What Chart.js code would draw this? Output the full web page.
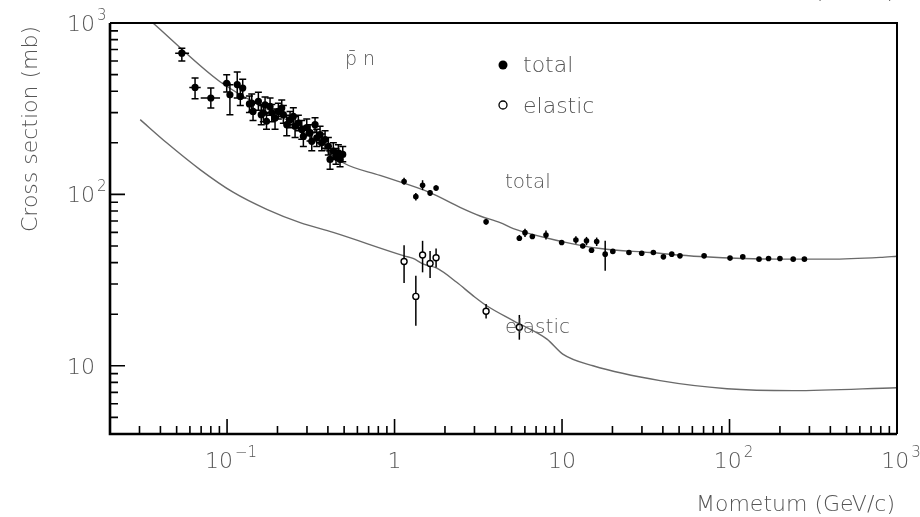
<!DOCTYPE html>
<html>
<head>
<meta charset="utf-8">
<script src="https://cdn.jsdelivr.net/npm/chart.js@4.4.1/dist/chart.umd.min.js"></script>
<style>
  html, body { margin: 0; padding: 0; background: #fff; }
  canvas { display: block; }
</style>
</head>
<body>
<canvas id="c" width="920" height="517"></canvas>
<script>
// pbar-n total cross section, measured points (GeV/c, mb)
const totP  = [0.0537, 0.0644, 0.080, 0.0995, 0.104, 0.115, 0.120, 0.124, 0.136, 0.1404, 0.1429, 0.1538, 0.160, 0.1647,
               0.1686, 0.172, 0.1806, 0.1849, 0.1934, 0.2024, 0.2121, 0.2168, 0.2272, 0.2377, 0.2487, 0.2547, 0.2665,
               0.2793, 0.2855, 0.2991, 0.3130, 0.3204, 0.3352, 0.3431, 0.3591, 0.3675, 0.3847, 0.4025, 0.4120, 0.4311,
               0.4473, 0.4619, 0.4727, 0.4906,
               1.14, 1.34, 1.47, 1.63, 1.77, 3.52, 5.56, 6.01, 6.65, 8.02, 9.95, 12.1, 13.3, 14.0, 15.0, 16.1, 18.1,
               20.1, 25.1, 29.9, 35.1, 40.3, 45.2, 50.6, 70.5, 100.7, 120, 150, 171, 200, 240, 280];
const totS  = [667, 421, 365, 445, 381, 437, 373, 417, 337, 341, 305, 349, 292, 299,
               333, 267, 326, 299, 279, 305, 319, 292, 255, 273, 285, 250, 261,
               239, 218, 245, 229, 204, 255, 214, 223, 200, 209, 191, 160, 179,
               167, 175, 160, 171,
               119, 97, 113, 102, 109, 69.3, 55.5, 59.8, 56.8, 58.0, 52.4, 54.2, 50.0, 53.6, 47.2, 53.1, 44.8,
               46.5, 45.8, 45.4, 45.8, 43.2, 44.8, 43.8, 43.8, 42.5, 43.2, 41.9, 42.3, 42.3, 41.9, 41.9];
const totLo = [601, 362, 319, 396, 292, 365, 330, 365, 300, 305, 270, 310, 255, 265,
               295, 240, 290, 265, 240, 275, 285, 260, 220, 245, 255, 215, 235,
               210, 190, 220, 205, 180, 230, 190, 200, 180, 185, 170, 140, 160,
               150, 158, 145, 155,
               114, 92, 106, 98, 105, 66.5, 53.5, 56.5, 55.0, 54.5, 51.5, 51.5, 48.5, 50.5, 46.0, 50.0, 35.8,
               45.5, 45.0, 44.6, 44.6, 42.5, 44.0, 43.0, 43.0, 41.8, 42.5, 41.2, 41.6, 41.6, 41.2, 41.2];
const totHi = [713, 477, 417, 499, 436, 517, 420, 470, 375, 385, 340, 395, 330, 335,
               370, 300, 365, 335, 315, 340, 355, 330, 290, 305, 320, 285, 290,
               270, 250, 275, 255, 230, 280, 240, 250, 225, 235, 215, 180, 200,
               185, 195, 178, 190,
               125, 102, 121, 106, 113, 72.0, 58.0, 63.0, 58.5, 61.5, 53.3, 57.0, 51.5, 56.5, 48.5, 56.0, 53.6,
               47.5, 46.6, 46.2, 47.0, 44.0, 45.6, 44.6, 44.6, 43.2, 43.9, 42.6, 43.0, 43.0, 42.6, 42.6];
// horizontal (momentum) error bars of the lowest points
const totPLo = [0.049, 0.0595, 0.0696, 0.094];
const totPHi = [0.0593, 0.0696, 0.0908, 0.105];

// elastic cross section, measured points
const elP  = [1.14, 1.34, 1.47, 1.63, 1.77, 3.52, 5.56];
const elS  = [40.6, 25.4, 44.3, 39.5, 42.7, 20.8, 16.8];
const elLo = [30.4, 17.1, 35.1, 32.5, 37.5, 18.9, 14.2];
const elHi = [50.5, 33.5, 53.6, 46.8, 48.3, 22.9, 19.8];

// fitted curves
const fitTotP = [0.0361, 0.0908, 0.26, 0.493, 0.819, 1.63, 2.46, 3.24, 4.27, 5.12, 9.72, 16.9, 33.5, 66.7, 200, 398, 793, 1000];
const fitTotS = [1000, 454, 250, 153, 129, 102.4, 84, 74.8, 68.4, 63.1, 53.4, 48.3, 45.8, 43.4, 41.9, 41.9, 42.9, 43.6];
const fitElP  = [0.0303, 0.0436, 0.069, 0.1086, 0.1726, 0.273, 0.43, 1.14, 1.29, 1.49, 1.79, 2.35, 2.95,
                 3.55, 5.13, 8.13, 10.1, 15.3, 38.5, 96.6, 239, 1000];
const fitElS  = [273, 200, 139.6, 103, 81.8, 68.4, 60, 43.8, 42.3, 39.2, 37.1, 30.7, 25.6,
                 22.4, 18.3, 14.3, 11.7, 10, 8.19, 7.35, 7.16, 7.45];

// axis ticks
const xMajor  = [0.1, 1, 10, 100, 1000];
const xLabels = [['10', '\u22121'], ['1', ''], ['10', ''], ['10', '2'], ['10', '3']];
const yMajor  = [10, 100, 1000];
const yLabels = [['10', ''], ['10', '2'], ['10', '3']];

const FAM = '"DejaVu Sans"';
const FONT = '200 22px ' + FAM;
const SUP = '200 15px ' + FAM;
const TXT = '#555';

const pts = (xs, ys) => xs.map((x, i) => ({ x, y: ys[i] }));

const errorBars = {
    id: 'errorBars',
    beforeDatasetDraw(chart, args) {
        const sets = { 0: [totP, totS, totLo, totHi], 1: [elP, elS, elLo, elHi] };
        const s = sets[args.index];
        if (!s) return;
        const { ctx, chartArea: a, scales: { x, y } } = chart;
        ctx.save();
        ctx.beginPath();
        ctx.rect(a.left, a.top, a.right - a.left, a.bottom - a.top);
        ctx.clip();
        ctx.strokeStyle = '#000';
        ctx.lineWidth = 1.5;
        s[0].forEach((p, i) => {
            const px = x.getPixelForValue(p);
            const lo = y.getPixelForValue(s[2][i]), hi = y.getPixelForValue(s[3][i]);
            ctx.beginPath();
            ctx.moveTo(px, lo); ctx.lineTo(px, hi);
            if (args.index === 0 && p < 1) {
                ctx.moveTo(px - 3.5, lo); ctx.lineTo(px + 3.5, lo);
                ctx.moveTo(px - 3.5, hi); ctx.lineTo(px + 3.5, hi);
            }
            if (args.index === 0 && i < totPLo.length) {
                const py = y.getPixelForValue(s[1][i]);
                const l = x.getPixelForValue(totPLo[i]), r = x.getPixelForValue(totPHi[i]);
                ctx.moveTo(l, py); ctx.lineTo(r, py);
            }
            ctx.stroke();
        });
        ctx.restore();
    }
};

function powLabel(ctx, base, exp, x, y, align) {
    ctx.font = FONT;
    const wb = ctx.measureText(base).width;
    ctx.font = SUP;
    const we = exp ? ctx.measureText(exp).width + 2 : 0;
    const left = align === 'center' ? x - (wb + we) / 2 + (exp ? 4 : 0) : x;
    ctx.font = FONT;
    ctx.fillText(base, left, y);
    if (exp) {
        ctx.font = SUP;
        ctx.fillText(exp, left + wb + 2, y - 11);
    }
}

const frame = {
    id: 'frame',
    afterDraw(chart) {
        const { ctx, chartArea: a, scales: { x, y } } = chart;
        ctx.save();
        ctx.strokeStyle = '#000';

        // box
        ctx.lineWidth = 2;
        ctx.beginPath();
        ctx.moveTo(a.left, a.top); ctx.lineTo(a.right, a.top); ctx.lineTo(a.right, a.bottom);
        ctx.stroke();
        ctx.lineWidth = 2.6;
        ctx.beginPath();
        ctx.moveTo(a.left, a.top); ctx.lineTo(a.left, a.bottom); ctx.lineTo(a.right, a.bottom);
        ctx.stroke();

        // ticks, drawn inward
        ctx.lineWidth = 1.6;
        ctx.beginPath();
        [0.01, 0.1, 1, 10, 100].forEach(d => {
            for (let m = 2; m <= 9; m++) {
                const v = d * m;
                if (v <= x.min || v >= x.max) continue;
                const px = x.getPixelForValue(v);
                ctx.moveTo(px, a.bottom); ctx.lineTo(px, a.bottom - 8);
            }
        });
        xMajor.forEach(v => {
            if (v >= x.max) return;
            const px = x.getPixelForValue(v);
            ctx.moveTo(px, a.bottom); ctx.lineTo(px, a.bottom - 15);
        });
        [1, 10, 100].forEach(d => {
            for (let m = 2; m <= 9; m++) {
                const v = d * m;
                if (v <= y.min || v >= y.max) continue;
                const py = y.getPixelForValue(v);
                ctx.moveTo(a.left, py); ctx.lineTo(a.left + 8, py);
            }
        });
        yMajor.forEach(v => {
            if (v >= y.max) return;
            const py = y.getPixelForValue(v);
            ctx.moveTo(a.left, py); ctx.lineTo(a.left + 15, py);
        });
        ctx.stroke();

        // tick labels
        ctx.fillStyle = TXT;
        ctx.textBaseline = 'alphabetic';
        ctx.textAlign = 'left';
        xMajor.forEach((v, i) => {
            powLabel(ctx, xLabels[i][0], xLabels[i][1], x.getPixelForValue(v), 468, 'center');
        });
        yMajor.forEach((v, i) => {
            powLabel(ctx, yLabels[i][0], yLabels[i][1], 67, y.getPixelForValue(v) + 8, 'left');
        });

        // axis titles
        ctx.font = FONT;
        ctx.textAlign = 'right';
        ctx.fillText('Mometum (GeV/c)', 895, 511);
        ctx.fillText('(GeV/c)', 895, -2);
        ctx.save();
        ctx.translate(37, 129);
        ctx.rotate(-Math.PI / 2);
        ctx.textAlign = 'center';
        ctx.fillText('Cross section (mb)', 0, 0);
        ctx.restore();

        // annotations
        ctx.textAlign = 'left';
        ctx.font = '200 19px ' + FAM;
        ctx.fillText('p\u0304 n', 345, 65);
        ctx.font = '200 20px ' + FAM;
        ctx.fillText('total', 505, 188);
        ctx.fillText('elastic', 505, 333);

        // legend
        ctx.font = FONT;
        ctx.fillText('total', 523, 72);
        ctx.fillText('elastic', 523, 113);
        ctx.fillStyle = '#000';
        ctx.beginPath(); ctx.arc(503, 65, 4.5, 0, Math.PI * 2); ctx.fill();
        ctx.lineWidth = 1.3;
        ctx.beginPath(); ctx.arc(503, 105, 4, 0, Math.PI * 2); ctx.stroke();
        ctx.restore();
    }
};

new Chart(document.getElementById('c').getContext('2d'), {
    type: 'scatter',
    data: {
        datasets: [
            {
                label: 'total',
                data: pts(totP, totS),
                pointRadius: c => (c.raw && c.raw.x < 1 ? 3.6 : 2.8),
                backgroundColor: '#000',
                borderWidth: 0
            },
            {
                label: 'elastic',
                data: pts(elP, elS),
                pointRadius: 3,
                backgroundColor: '#fff',
                borderColor: '#000',
                borderWidth: 1.4
            },
            {
                type: 'line',
                label: 'total fit',
                data: pts(fitTotP, fitTotS),
                showLine: true,
                borderColor: '#6a6a6a',
                borderWidth: 1.4,
                pointRadius: 0,
                cubicInterpolationMode: 'monotone',
                fill: false
            },
            {
                type: 'line',
                label: 'elastic fit',
                data: pts(fitElP, fitElS),
                showLine: true,
                borderColor: '#6a6a6a',
                borderWidth: 1.4,
                pointRadius: 0,
                cubicInterpolationMode: 'monotone',
                fill: false
            }
        ]
    },
    options: {
        responsive: false,
        animation: false,
        devicePixelRatio: 1,
        events: [],
        layout: { padding: { left: 110, right: 23, top: 23, bottom: 83 } },
        scales: {
            x: { type: 'logarithmic', min: 0.02, max: 1000, display: false },
            y: { type: 'logarithmic', min: 4, max: 1000, display: false }
        },
        plugins: { legend: { display: false }, tooltip: { enabled: false } }
    },
    plugins: [errorBars, frame]
});
</script>
</body>
</html>
